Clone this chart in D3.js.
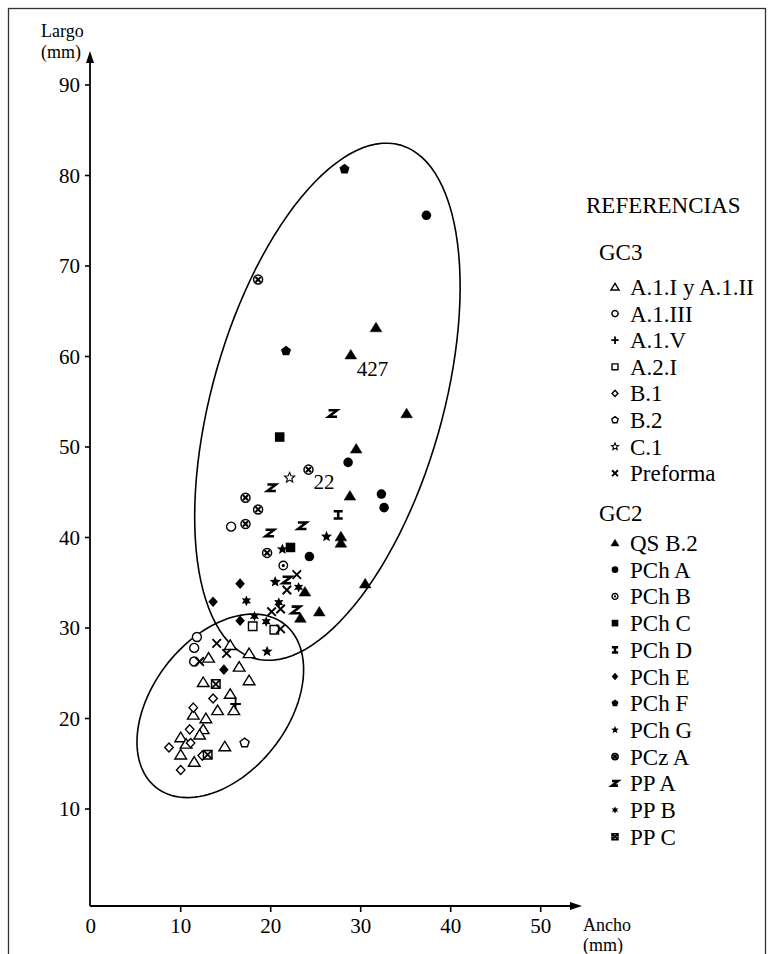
<!DOCTYPE html>
<html>
<head>
<meta charset="utf-8">
<script src="https://cdn.jsdelivr.net/npm/d3@7"></script>
<style>
  html, body { margin: 0; padding: 0; background: #fff; }
  svg { display: block; font-family: "Liberation Serif", "Times New Roman", serif; }
</style>
</head>
<body>
<svg id="chart" width="774" height="954"></svg>
<script>
// Largo vs Ancho de puntas: grupos GC3 y GC2

var xTicks = [0, 10, 20, 30, 40, 50];
var yTicks = [10, 20, 30, 40, 50, 60, 70, 80, 90];

// ---- GC3 ----
var a1I = [[15.5,28.1],[17.6,27.2],[13.1,26.7],[16.5,25.7],[12.5,24.0],[17.6,24.2],[15.5,22.7],
  [15.9,20.9],[14.1,20.9],[11.4,20.4],[12.8,20.0],[12.5,18.8],[12.1,18.2],[10.0,17.9],[10.6,17.2],
  [14.9,16.9],[10.0,16.0],[11.5,15.2]];
var a1III = [[15.6,41.2],[11.8,29.0],[11.5,27.8],[11.5,26.3]];
var a1V = [[16.1,21.6]];
var a2I = [[18.0,30.2],[20.4,29.8]];
var b1 = [[13.6,22.2],[11.4,21.2],[11.0,18.8],[11.1,17.3],[8.7,16.8],[12.4,15.9],[10.0,14.3]];
var b2 = [[17.1,17.3]];
var c1 = [[22.1,46.6]];
var preforma = [[22.9,35.9],[21.8,34.2],[20.1,31.8],[21.1,32.1],[21.1,29.9],[14.0,28.3],[15.1,27.2],[12.1,26.3]];

// ---- GC2 ----
var qsB2 = [[31.7,63.2],[28.9,60.2],[35.1,53.7],[29.5,49.8],[28.8,44.6],[27.8,40.1],[27.8,39.4],
  [23.8,34.0],[30.5,34.9],[23.3,31.1],[25.4,31.8]];
var pchA = [[37.3,75.6],[28.6,48.3],[32.3,44.8],[32.6,43.3],[24.3,37.9]];
var pchB = [[21.4,36.9]];
var pchC = [[21.0,51.1],[22.2,38.9]];
var pchD = [[27.5,42.5]];
var pchE = [[16.6,34.9],[13.6,32.9],[16.6,30.8],[14.8,25.4]];
var pchF = [[28.2,80.7],[21.7,60.6]];
var pchG = [[26.2,40.1],[21.3,38.7],[20.5,35.1],[19.6,27.4]];
var pczA = [[18.6,68.5],[24.2,47.5],[17.2,44.4],[18.6,43.1],[17.2,41.5],[19.6,38.3]];
var ppA = [[26.9,53.7],[20.1,45.5],[23.5,41.3],[19.9,40.5],[21.8,35.3],[22.8,32.0]];
var ppB = [[23.1,34.5],[17.3,33.0],[20.9,32.8],[18.2,31.3],[19.5,30.7]];
var ppC = [[13.9,23.8],[13.0,16.0]];

var gc3Names = ['A.1.I y A.1.II', 'A.1.III', 'A.1.V', 'A.2.I', 'B.1', 'B.2', 'C.1', 'Preforma'];
var gc3Kinds = ['triOpen', 'circleOpen', 'plus', 'squareOpen', 'diamondOpen', 'pentOpen', 'starOpen', 'xcross'];
var gc3Data = [a1I, a1III, a1V, a2I, b1, b2, c1, preforma];

var gc2Names = ['QS B.2', 'PCh A', 'PCh B', 'PCh C', 'PCh D', 'PCh E', 'PCh F', 'PCh G', 'PCz A', 'PP A', 'PP B', 'PP C'];
var gc2Kinds = ['triFill', 'circleFill', 'bullseye', 'squareFill', 'ibeam', 'diamondFill', 'pentFill', 'starFill', 'circleX', 'zee', 'star6', 'squareX'];
var gc2Data = [qsB2, pchA, pchB, pchC, pchD, pchE, pchF, pchG, pczA, ppA, ppB, ppC];

// elipses que agrupan (centro y semiejes en mm, ángulo en grados)
var groupEllipses = [
  { cx: 26.3, cy: 55.0, a: 29.5, b: 12.8, angle: 74 },
  { cx: 14.4, cy: 21.4, a: 11.5, b: 7.5, angle: 51.5 }
];

var labels = [
  { text: '427', at: [28.9, 60.2], dx: 6, dy: 21 },
  { text: '22', at: [24.2, 47.5], dx: 5, dy: 19 }
];

var svg = d3.select('#chart');

var x = d3.scaleLinear().domain([0, 50]).range([90.7, 540.7]);
var y = d3.scaleLinear().domain([10, 90]).range([809, 85]);
var axisX = 90, axisY = 906;

// marco
svg.append('rect')
  .attr('x', 8.5).attr('y', 8.5).attr('width', 757).attr('height', 960)
  .attr('fill', 'none').attr('stroke', '#333').attr('stroke-width', 1.3);

// ---- formas de símbolos ----
function polyPts(n, r, rot) {
  var pts = [];
  for (var i = 0; i < n; i++) {
    var a = rot + i * 2 * Math.PI / n;
    pts.push([r * Math.cos(a), r * Math.sin(a)]);
  }
  return 'M' + pts.map(function (p) { return p[0].toFixed(2) + ',' + p[1].toFixed(2); }).join('L') + 'Z';
}
function circ(r) {
  return 'M' + r + ',0A' + r + ',' + r + ' 0 1 1 ' + (-r) + ',0A' + r + ',' + r + ' 0 1 1 ' + r + ',0Z';
}
function starPts(n, ro, ri) {
  var pts = [];
  for (var i = 0; i < n * 2; i++) {
    var a = -Math.PI / 2 + i * Math.PI / n;
    var rr = i % 2 ? ri : ro;
    pts.push([rr * Math.cos(a), rr * Math.sin(a)]);
  }
  return 'M' + pts.map(function (p) { return p[0].toFixed(2) + ',' + p[1].toFixed(2); }).join('L') + 'Z';
}
function tri(r) {
  return 'M0,' + (-r) + 'L' + (r * 1.1) + ',' + (r * 0.8) + 'L' + (-r * 1.1) + ',' + (r * 0.8) + 'Z';
}
function box(h) {
  return 'M' + (-h) + ',' + (-h) + 'h' + (2 * h) + 'v' + (2 * h) + 'h' + (-2 * h) + 'Z';
}
function xmark(h) {
  return 'M' + (-h) + ',' + (-h) + 'L' + h + ',' + h + 'M' + h + ',' + (-h) + 'L' + (-h) + ',' + h;
}

function symbolParts(kind, k) {
  switch (kind) {
    case 'triOpen': return [{ d: tri(k), fill: '#fff', sw: 1.4 }];
    case 'circleOpen': return [{ d: circ(k * 0.85), fill: '#fff', sw: 1.4 }];
    case 'plus': return [{ d: 'M' + (-k) + ',0H' + k + 'M0,' + (-k) + 'V' + k, fill: 'none', sw: 1.8 }];
    case 'squareOpen': return [{ d: box(k * 0.8), fill: '#fff', sw: 1.4 }];
    case 'diamondOpen': return [{ d: 'M0,' + (-k * 0.85) + 'L' + (k * 0.8) + ',0L0,' + (k * 0.85) + 'L' + (-k * 0.8) + ',0Z', fill: '#fff', sw: 1.4 }];
    case 'pentOpen': return [{ d: polyPts(5, k * 0.9, -Math.PI / 2), fill: '#fff', sw: 1.4 }];
    case 'starOpen': return [{ d: starPts(5, k, k * 0.45), fill: '#fff', sw: 1.1 }];
    case 'xcross': return [{ d: xmark(k * 0.8), fill: 'none', sw: 1.9 }];
    case 'triFill': return [{ d: tri(k), fill: '#000', sw: 0.5 }];
    case 'circleFill': return [{ d: circ(k * 0.9), fill: '#000', sw: 0 }];
    case 'bullseye': return [{ d: circ(k * 0.8), fill: '#fff', sw: 1.4 }, { d: circ(k * 0.3), fill: '#000', sw: 0 }];
    case 'squareFill': return [{ d: box(k * 0.9), fill: '#000', sw: 0 }];
    case 'ibeam': return [{ d: 'M' + (-k * 0.85) + ',' + (-k * 0.7) + 'H' + (k * 0.85) + 'M0,' + (-k * 0.7) + 'V' + (k * 0.7) + 'M' + (-k * 0.85) + ',' + (k * 0.7) + 'H' + (k * 0.85), fill: 'none', sw: 2.5 }];
    case 'diamondFill': return [{ d: 'M0,' + (-k) + 'L' + (k * 0.9) + ',0L0,' + k + 'L' + (-k * 0.9) + ',0Z', fill: '#000', sw: 0 }];
    case 'pentFill': return [{ d: polyPts(5, k, -Math.PI / 2), fill: '#000', sw: 0 }];
    case 'starFill': return [{ d: starPts(5, k * 1.1, k * 0.48), fill: '#000', sw: 0 }];
    case 'circleX': return [{ d: circ(k * 0.85), fill: '#fff', sw: 1.5 }, { d: xmark(k * 0.5), fill: 'none', sw: 2 }];
    case 'zee': return [{ d: 'M' + (-k * 0.8) + ',' + (-k * 0.62) + 'H' + (k * 0.8) + 'L' + (-k * 0.8) + ',' + (k * 0.62) + 'H' + (k * 0.8), fill: 'none', sw: 2.6 }];
    case 'star6': return [{ d: starPts(6, k, k * 0.5), fill: '#000', sw: 0 }];
    case 'squareX': return [{ d: box(k * 0.8), fill: '#fff', sw: 1.5 }, { d: xmark(k * 0.8), fill: 'none', sw: 1.8 }];
  }
  return [];
}

function drawSymbol(g, kind, r) {
  symbolParts(kind, r).forEach(function (p) {
    g.append('path')
      .attr('d', p.d)
      .attr('fill', p.fill)
      .attr('stroke', p.sw ? '#000' : 'none')
      .attr('stroke-width', p.sw);
  });
}

// ---- elipses ----
var ellLine = d3.line()
  .x(function (d) { return x(d[0]); })
  .y(function (d) { return y(d[1]); })
  .curve(d3.curveLinearClosed);

groupEllipses.forEach(function (e) {
  var th = e.angle * Math.PI / 180;
  var ring = d3.range(0, 120).map(function (i) {
    var t = i / 120 * 2 * Math.PI;
    return [e.cx + e.a * Math.cos(t) * Math.cos(th) - e.b * Math.sin(t) * Math.sin(th),
            e.cy + e.a * Math.cos(t) * Math.sin(th) + e.b * Math.sin(t) * Math.cos(th)];
  });
  svg.append('path')
    .attr('d', ellLine(ring))
    .attr('fill', 'none').attr('stroke', '#000').attr('stroke-width', 1.6);
});

// ---- ejes ----
var axes = svg.append('g').attr('stroke', '#000').attr('stroke-width', 1.8);
axes.append('line').attr('x1', axisX).attr('x2', axisX).attr('y1', axisY).attr('y2', 60);
axes.append('line').attr('x1', axisX).attr('x2', 574).attr('y1', axisY).attr('y2', axisY);
svg.append('path').attr('d', 'M' + axisX + ',51L' + (axisX + 4) + ',63L' + (axisX - 4) + ',63Z').attr('fill', '#000');
svg.append('path').attr('d', 'M582,' + axisY + 'L570,' + (axisY - 4) + 'L570,' + (axisY + 4) + 'Z').attr('fill', '#000');

var yAx = svg.append('g');
yTicks.forEach(function (t) {
  yAx.append('line').attr('x1', axisX - 5).attr('x2', axisX).attr('y1', y(t)).attr('y2', y(t))
    .attr('stroke', '#000').attr('stroke-width', 1.6);
  yAx.append('text').attr('x', axisX - 10).attr('y', y(t) + 7).attr('text-anchor', 'end')
    .attr('font-size', 21).text(t);
});
var xAx = svg.append('g');
xTicks.forEach(function (t) {
  if (t > 0) {
    xAx.append('line').attr('x1', x(t)).attr('x2', x(t)).attr('y1', axisY).attr('y2', axisY + 6)
      .attr('stroke', '#000').attr('stroke-width', 1.6);
  }
  xAx.append('text').attr('x', x(t)).attr('y', axisY + 27).attr('text-anchor', 'middle')
    .attr('font-size', 21).text(t);
});

svg.append('text').attr('x', 41).attr('y', 37).attr('font-size', 18).text('Largo');
svg.append('text').attr('x', 41).attr('y', 58).attr('font-size', 18).text('(mm)');
svg.append('text').attr('x', 583).attr('y', 931).attr('font-size', 18).text('Ancho');
svg.append('text').attr('x', 583).attr('y', 951).attr('font-size', 18).text('(mm)');

// ---- puntos ----
var pts = svg.append('g');
function drawSeries(data, kind) {
  data.forEach(function (d) {
    var g = pts.append('g').attr('transform', 'translate(' + x(d[0]) + ',' + y(d[1]) + ')');
    drawSymbol(g, kind, 5.3);
  });
}
gc3Data.forEach(function (s, i) { drawSeries(s, gc3Kinds[i]); });
gc2Data.forEach(function (s, i) { drawSeries(s, gc2Kinds[i]); });

labels.forEach(function (l) {
  svg.append('text').attr('x', x(l.at[0]) + l.dx).attr('y', y(l.at[1]) + l.dy)
    .attr('font-size', 21).text(l.text);
});

// ---- leyenda ----
var leg = svg.append('g').attr('font-size', 23);
leg.append('text').attr('x', 586).attr('y', 213).text('REFERENCIAS');
leg.append('text').attr('x', 599).attr('y', 260).text('GC3');
gc3Names.forEach(function (n, i) {
  var cy = 287 + i * 26.6;
  var g = leg.append('g').attr('transform', 'translate(615,' + cy + ')');
  drawSymbol(g, gc3Kinds[i], 3.7);
  leg.append('text').attr('x', 630).attr('y', cy + 8).text(n);
});
leg.append('text').attr('x', 599).attr('y', 521).text('GC2');
gc2Names.forEach(function (n, i) {
  var cy = 543 + i * 26.7;
  var g = leg.append('g').attr('transform', 'translate(615,' + cy + ')');
  drawSymbol(g, gc2Kinds[i], 3.7);
  leg.append('text').attr('x', 630).attr('y', cy + 8).text(n);
});
</script>
</body>
</html>
